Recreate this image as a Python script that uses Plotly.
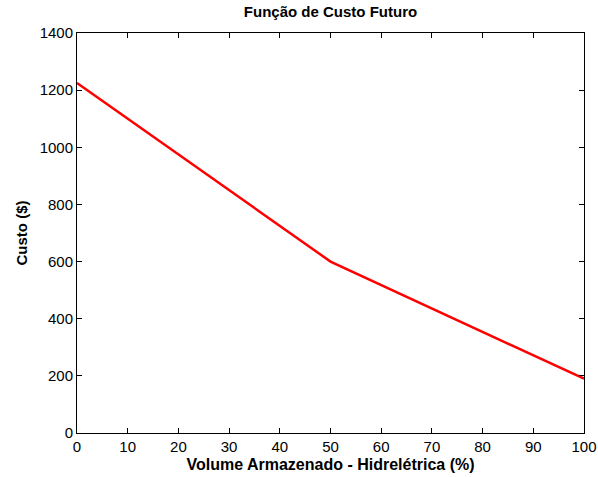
import plotly.graph_objects as go

volume = [0, 50, 100]
custo = [1225, 600, 190]
x_ticks = list(range(0, 101, 10))
y_ticks = list(range(0, 1401, 200))

FONT = "Liberation Sans, Arial"

fig = go.Figure()
fig.add_trace(go.Scatter(x=volume, y=custo, mode="lines",
                         line=dict(color="#ff0000", width=2.5), showlegend=False))

axis_common = dict(showline=True, linecolor="black", linewidth=1, mirror="ticks",
                   ticks="inside", ticklen=5, tickcolor="black", showgrid=False,
                   zeroline=False, automargin=False,
                   tickfont=dict(family=FONT, size=15, color="black"))

fig.update_layout(
    width=598, height=477, autosize=False,
    margin=dict(l=77, r=14, t=33, b=44),
    paper_bgcolor="white", plot_bgcolor="white",
    title=dict(text="<b>Função de Custo Futuro</b>", x=0.5, xref="paper", xanchor="center",
               y=1, yref="container", yanchor="top", pad=dict(t=6),
               font=dict(family=FONT, size=15, color="black")),
    xaxis=dict(range=[0, 100], tickvals=x_ticks,
               title=dict(text="<b>Volume Armazenado - Hidrelétrica (%)</b>", standoff=4,
                          font=dict(family=FONT, size=16, color="black")),
               **axis_common),
    yaxis=dict(range=[0, 1400], tickvals=y_ticks,
               title=dict(text="<b>Custo ($)</b>", standoff=8,
                          font=dict(family=FONT, size=15, color="black")),
               **axis_common),
)

fig.write_html("out.html")
